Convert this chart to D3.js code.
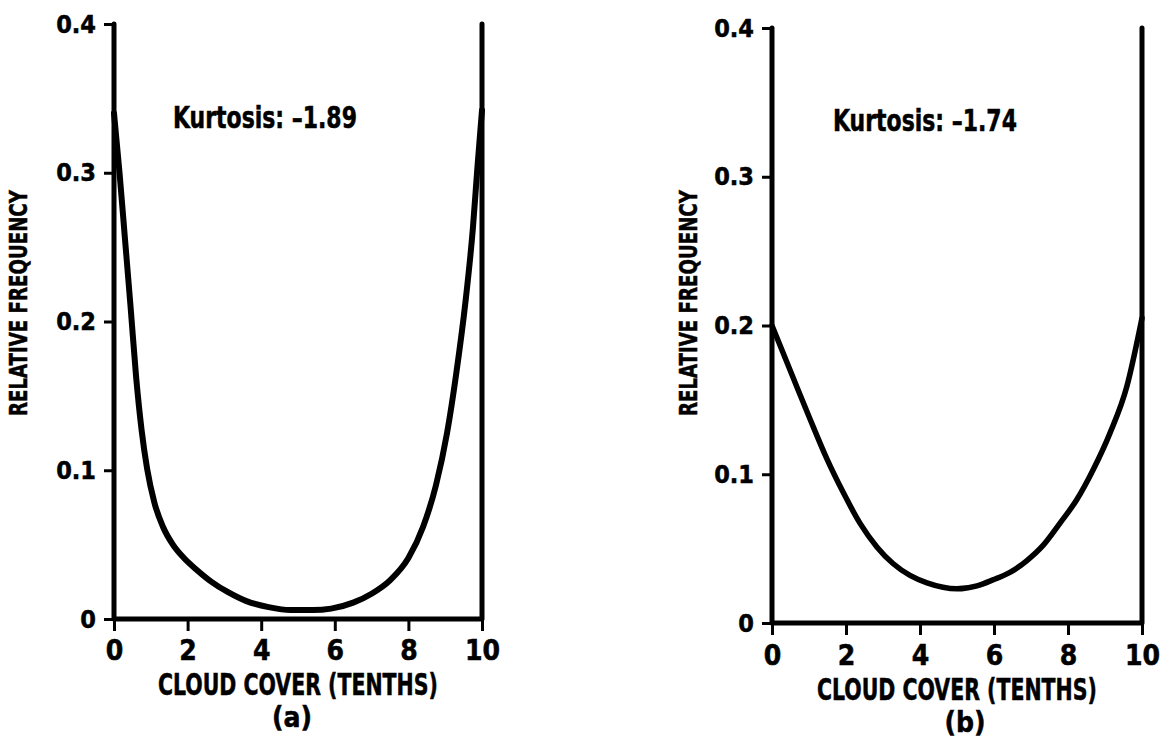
<!DOCTYPE html>
<html>
<head>
<meta charset="utf-8">
<script src="https://cdn.jsdelivr.net/npm/d3@7"></script>
<style>
  html, body { margin: 0; padding: 0; background: #fff; }
  svg text { font-family: "Liberation Sans Narrow", "Arial Narrow", "DejaVu Sans Condensed", sans-serif; font-weight: bold; fill: #000; stroke: #000; stroke-width: 0.5px; }
</style>
</head>
<body>
<svg id="chart" width="1160" height="740"></svg>
<script>
// Cloud cover distributions (relative frequency vs. tenths of sky covered)
const xTicks = [0, 2, 4, 6, 8, 10];
const yTicks = [0, 0.1, 0.2, 0.3, 0.4];

// Panel (a)
const coverA = [0.00, 0.15, 0.30, 0.45, 0.60, 0.75, 0.90, 1.10, 1.33, 1.60, 1.90, 2.25, 2.65, 3.10, 3.60, 4.20, 4.80, 5.40, 5.90, 6.50, 7.00, 7.50, 8.00, 8.40, 8.75, 9.05, 9.30, 9.55, 9.75, 9.88, 10.00];
const freqA  = [0.340, 0.300, 0.255, 0.210, 0.163, 0.127, 0.101, 0.078, 0.062, 0.050, 0.041, 0.033, 0.025, 0.018, 0.012, 0.008, 0.006, 0.006, 0.007, 0.011, 0.017, 0.026, 0.041, 0.062, 0.090, 0.125, 0.165, 0.213, 0.262, 0.305, 0.342];
const kurtA = "Kurtosis:  \u20131.89";

// Panel (b)
const coverB = [0.00, 0.57, 1.03, 1.49, 1.92, 2.38, 2.84, 3.27, 3.73, 4.19, 5.00, 5.54, 5.97, 6.43, 6.89, 7.32, 7.78, 8.24, 8.68, 9.14, 9.59, 10.00];
const freqB  = [0.200, 0.165, 0.137, 0.110, 0.088, 0.067, 0.051, 0.040, 0.032, 0.027, 0.023, 0.025, 0.029, 0.034, 0.042, 0.052, 0.067, 0.083, 0.103, 0.128, 0.159, 0.205];
const kurtB = "Kurtosis:  \u20131.74";

// Height of the end bars at 0 and 10 tenths
const edgeFreq = 0.4;

const svg = d3.select("#chart");

// Place a text and squeeze it horizontally to a given width
function fitText(g, str, x, y, size, width, anchor, rotate) {
  const t = g.append("text").style("font-size", size + "px").text(str);
  const w = t.node().getComputedTextLength();
  const k = Math.min(1, width / w);
  const off = anchor === "middle" ? -w / 2 : 0;
  t.attr("x", off);
  t.attr("transform", `translate(${x},${y})${rotate ? " rotate(-90)" : ""} scale(${k},1)`);
  return t;
}

function drawPanel(p) {
  const x = d3.scaleLinear().domain([0, 10]).range([p.x0, p.x1]);
  const y = d3.scaleLinear().domain([0, 0.4]).range([p.y0, p.y1]);
  const g = svg.append("g");

  // y ticks and labels
  const ya = g.append("g")
    .attr("transform", `translate(${x(0)},0)`)
    .call(d3.axisLeft(y).tickValues(yTicks)
      .tickFormat(d => d === 0 ? "0" : d3.format(".1f")(d))
      .tickSize(10).tickSizeOuter(0).tickPadding(8));
  ya.select(".domain").remove();
  ya.selectAll(".tick line").attr("stroke", "#000").attr("stroke-width", 3);
  ya.selectAll(".tick text").style("font-size", "25px").attr("fill", "#000");

  // x ticks and labels
  const xa = g.append("g")
    .attr("transform", `translate(0,${y(0)})`)
    .call(d3.axisBottom(x).tickValues(xTicks)
      .tickSize(12).tickSizeOuter(0).tickPadding(p.xPad));
  xa.select(".domain").remove();
  xa.selectAll(".tick line").attr("stroke", "#000").attr("stroke-width", 3);
  xa.selectAll(".tick text").style("font-size", "28px").attr("fill", "#000");

  // axis frame: y axis at 0, baseline, bar at 10
  g.append("path")
    .attr("d", `M${x(0)},${y(edgeFreq)}V${y(0)}H${x(10)}V${y(edgeFreq)}`)
    .attr("fill", "none").attr("stroke", "#000")
    .attr("stroke-width", 5).attr("stroke-linejoin", "round").attr("stroke-linecap", "round");

  // distribution curve
  const pts = p.cover.map((c, i) => [c, p.freq[i]]);
  g.append("path")
    .datum(pts)
    .attr("d", d3.line().x(d => x(d[0])).y(d => y(d[1])).curve(d3.curveMonotoneX))
    .attr("fill", "none").attr("stroke", "#000")
    .attr("stroke-width", p.curveW).attr("stroke-linejoin", "round").attr("stroke-linecap", "round");

  // annotations
  fitText(g, p.kurt, p.kx, p.ky, 30, 184, "start", false);
  fitText(g, "CLOUD COVER (TENTHS)", (p.x0 + p.x1) / 2, p.titleY, 30, 280, "middle", false);
  g.append("text").attr("x", p.tagX).attr("y", p.titleY + 32)
    .attr("text-anchor", "middle").style("font-size", "28px")
    .text(p.tag);
  fitText(g, "RELATIVE FREQUENCY", p.ylabX, p.ylabY, 24, 226, "middle", true);
}

drawPanel({
  x0: 114, x1: 482, y0: 619, y1: 24, xPad: 9, curveW: 6,
  cover: coverA, freq: freqA, kurt: kurtA, kx: 173, ky: 128,
  titleY: 695, tag: "(a)", tagX: 292, ylabX: 27, ylabY: 303
});

drawPanel({
  x0: 772, x1: 1142, y0: 623, y1: 28, xPad: 10, curveW: 5.5,
  cover: coverB, freq: freqB, kurt: kurtB, kx: 833, ky: 131,
  titleY: 700, tag: "(b)", tagX: 965, ylabX: 697, ylabY: 303
});
</script>
</body>
</html>
